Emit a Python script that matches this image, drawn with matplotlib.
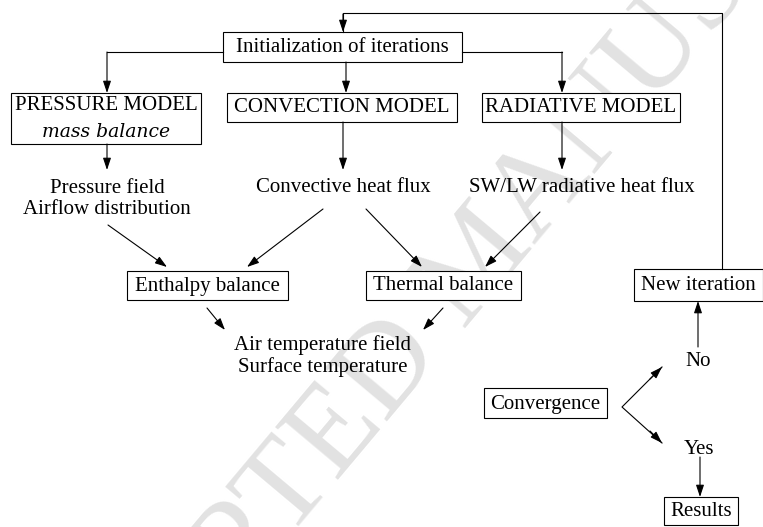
import matplotlib.pyplot as plt

# texts of the flow chart
init_label = "Initialization of iterations"
model_labels = ["PRESSURE MODEL", "CONVECTION MODEL", "RADIATIVE MODEL"]
model_sub = ["mass balance", "", ""]
output_labels = ["Pressure field\nAirflow distribution", "Convective heat flux",
                 "SW/LW radiative heat flux"]
balance_labels = ["Enthalpy balance", "Thermal balance"]
field_label = "Air temperature field\nSurface temperature"
conv_label = "Convergence"
answer_labels = ["No", "Yes"]
new_label = "New iteration"
result_label = "Results"
watermark = "ACCEPTED MANUSCRIPT"

plt.rcParams['font.family'] = ['Liberation Serif', 'DejaVu Serif']
FS = 15

fig = plt.figure(figsize=(7.63, 5.27), dpi=100)
ax = fig.add_axes([0, 0, 1, 1])
ax.set_xlim(0, 763)
ax.set_ylim(527, 0)
ax.axis('off')

# watermark
ax.text(482, 262, watermark, fontsize=90, color='#e2e2e2', rotation=50,
        ha='center', va='center', zorder=0)


def box(x0, y0, x1, y1):
    ax.add_patch(plt.Rectangle((x0, y0), x1 - x0, y1 - y0, fill=True, fc='white',
                               ec='black', lw=0.8, zorder=2))


def arrow(x0, y0, x1, y1):
    ax.annotate("", xy=(x1, y1), xytext=(x0, y0),
                arrowprops=dict(arrowstyle='-|>,head_length=0.6,head_width=0.2',
                                color='black', lw=0.8, mutation_scale=12,
                                shrinkA=0, shrinkB=0), zorder=3)


def line(xs, ys):
    ax.plot(xs, ys, color='black', lw=0.8, zorder=3)


def label(x, y, s, **kw):
    kw.setdefault('fontsize', FS)
    ax.text(x, y, s, ha='center', va='center', zorder=4,
            linespacing=1.2, **kw)


# initialization
box(223, 32, 462, 62)
label(342, 48, init_label)
line([343, 343, 722, 722], [32, 13, 13, 269])
arrow(343, 14, 343, 32)
line([223, 107], [52, 52])
arrow(107, 52, 107, 93)
arrow(346, 62, 346, 93)
line([462, 562], [52, 52])
arrow(562, 52, 562, 93)

# models
model_boxes = [(11, 93, 201, 144), (227, 93, 457, 122), (482, 93, 680, 122)]
model_x = [107, 343, 562]
for (x0, y0, x1, y1), name, sub, xc in zip(model_boxes, model_labels, model_sub, model_x):
    box(x0, y0, x1, y1)
    if sub:
        label((x0 + x1) / 2, 106, name)
        label((x0 + x1) / 2, 132, sub, style='italic', family='DejaVu Serif',
              fontsize=13.5)
    else:
        label((x0 + x1) / 2, 108, name)
    arrow(xc, y1, xc, 170)

label(107, 199, output_labels[0])
label(343, 187, output_labels[1])
label(582, 187, output_labels[2])

# balances
box(127, 271, 288, 300)
label(207, 286, balance_labels[0])
box(366, 271, 521, 300)
label(443, 286, balance_labels[1])
arrow(108, 225, 167, 267)
arrow(323, 209, 247, 267)
arrow(366, 209, 422, 267)
arrow(540, 212, 485, 267)

arrow(207, 308, 225, 330)
arrow(443, 308, 423, 330)
label(323, 356, field_label)

# convergence
box(484, 388, 607, 418)
label(545, 404, conv_label)
line([662, 622, 662], [367, 407, 443])
arrow(650, 379, 662, 367)
arrow(650, 431, 662, 443)
label(698, 361, answer_labels[0])
label(699, 449, answer_labels[1])
arrow(698, 347, 698, 301)
box(634, 269, 763, 301)
label(698, 286, new_label)
arrow(700, 457, 700, 497)
box(664, 497, 738, 525)
label(701, 512, result_label)

fig.savefig("out.png", dpi=100)
